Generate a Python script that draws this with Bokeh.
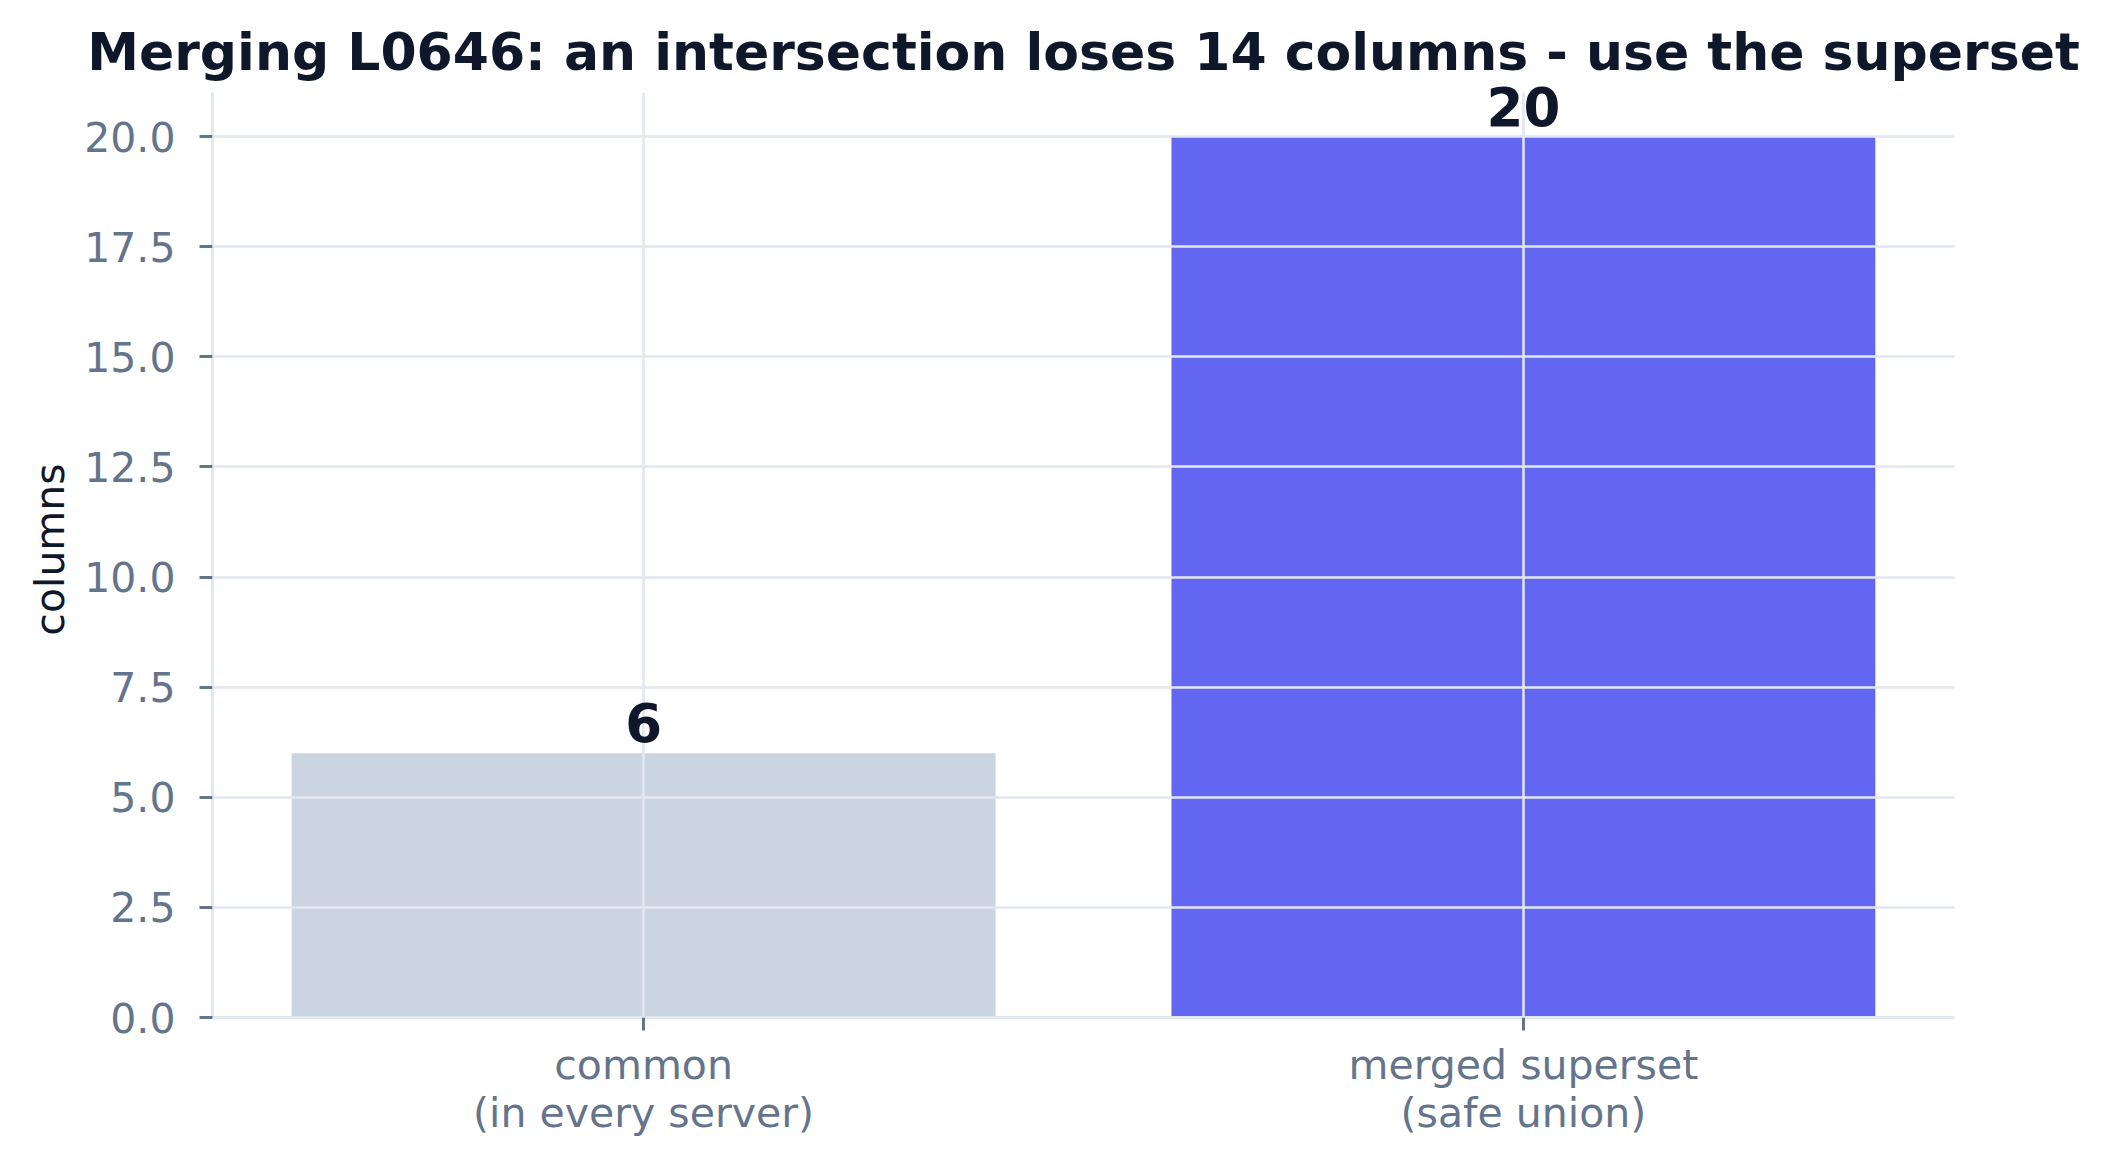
from bokeh.plotting import figure
from bokeh.models import ColumnDataSource, FixedTicker, Range1d, NumeralTickFormatter, LabelSet, Grid
from bokeh.core.properties import value
from bokeh.embed import file_html
from bokeh.resources import INLINE

# data
categories = ["common\n(in every server)", "merged superset\n(safe union)"]
column_counts = [6, 20]
bar_colors = ["#cbd5e1", "#6366f1"]
y_ticks = [0, 2.5, 5, 7.5, 10, 12.5, 15, 17.5, 20]

TITLE = "Merging L0646: an intersection loses 14 columns - use the superset"
FONT = "DejaVu Sans"
DARK = "#0f172a"
MUTED = "#64748b"
LIGHT = "#e2e8f0"

positions = list(range(len(categories)))
src = ColumnDataSource(dict(
    x=positions,
    top=column_counts,
    color=bar_colors,
    label=[str(v) for v in column_counts],
))

y_max = max(column_counts) * 1.05   # visible axis extent
y_room = 0.25                       # extra headroom so the top value label is not clipped

p = figure(
    width=2095, height=1151,
    x_range=Range1d(-0.49, len(categories) - 1 + 0.49),
    y_range=Range1d(0, y_max + y_room),
    output_backend="svg", toolbar_location=None,
    min_border_left=212, min_border_right=141,
    min_border_top=81, min_border_bottom=134,
)

p.vbar(x="x", top="top", width=0.8, fill_color="color", line_color=None, source=src)

# value labels above the bars
labels = LabelSet(x="x", y="top", text="label", source=src,
                  text_align="center", text_baseline="alphabetic", y_offset=11,
                  text_font=value(FONT), text_font_size=value("53px"),
                  text_font_style=value("bold"), text_color=value(DARK))
p.add_layout(labels)

# title
p.title.text = TITLE
p.title.align = "center"
p.title.text_font = FONT
p.title.text_font_size = "52px"
p.title.text_font_style = "bold"
p.title.text_color = DARK
p.title.standoff = 0

# axes
p.xaxis.ticker = FixedTicker(ticks=positions)
p.xaxis.major_label_overrides = {i: c for i, c in enumerate(categories)}
p.yaxis.ticker = FixedTicker(ticks=y_ticks)
p.yaxis.formatter = NumeralTickFormatter(format="0.0")
p.yaxis.axis_label = "columns"
p.yaxis.bounds = (0, y_max)

for ax in (p.xaxis, p.yaxis):
    ax.axis_line_color = LIGHT
    ax.axis_line_width = 3
    ax.major_tick_line_color = MUTED
    ax.major_tick_line_width = 3
    ax.major_tick_out = 13
    ax.major_tick_in = 0
    ax.minor_tick_line_color = None
    ax.major_label_text_font = FONT
    ax.major_label_text_font_size = "41px"
    ax.major_label_text_color = MUTED
    ax.axis_label_text_font = FONT
    ax.axis_label_text_font_size = "41px"
    ax.axis_label_text_font_style = "normal"
    ax.axis_label_text_color = DARK

p.yaxis.major_label_standoff = 24
p.yaxis.axis_label_standoff = 7
p.xaxis.major_label_standoff = 10
p.xaxis.major_label_text_line_height = 1.0

# grid sits on top of the bars, like the reference
for g in (p.xgrid, p.ygrid):
    g.grid_line_color = LIGHT
    g.grid_line_width = 2.5
    g.level = "guide"
p.xgrid.ticker = FixedTicker(ticks=positions)
p.ygrid.ticker = FixedTicker(ticks=y_ticks)
if "cross_bounds" in Grid.properties():
    p.xgrid.cross_bounds = (0, y_max)

p.outline_line_color = None
p.background_fill_color = "white"
p.border_fill_color = "white"

open("out.html", "w").write(file_html(p, INLINE))
